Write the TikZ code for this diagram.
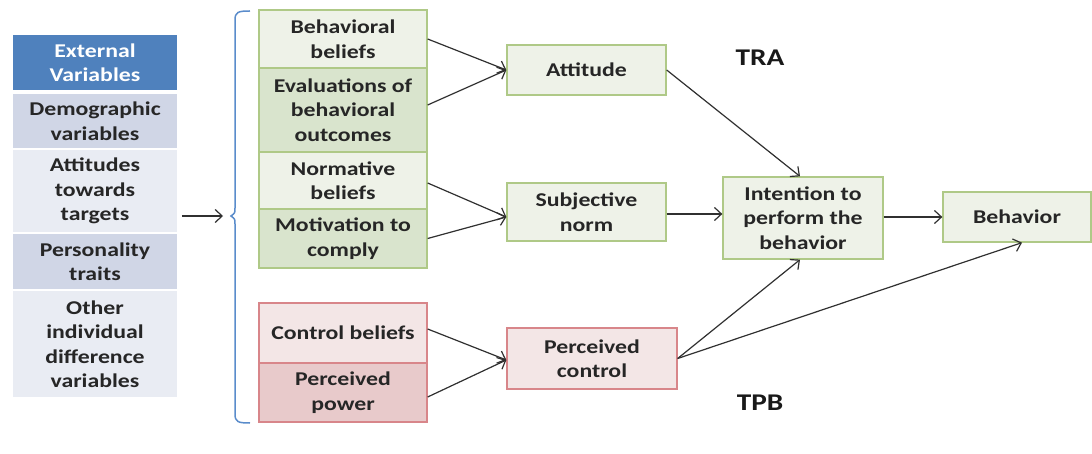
\documentclass[tikz,border=0pt]{standalone}
\usepackage{fontspec}
\setmainfont{Carlito}[FakeStretch=1.22]
\usetikzlibrary{arrows.meta}
\definecolor{hdrblue}{HTML}{4F81BD}
\definecolor{lavdark}{HTML}{D0D6E6}
\definecolor{lavlight}{HTML}{E9ECF3}
\definecolor{gfill}{HTML}{EEF2E8}
\definecolor{gdark}{HTML}{D9E4CD}
\definecolor{gborder}{HTML}{AFC987}
\definecolor{rfill}{HTML}{F3E6E6}
\definecolor{rdark}{HTML}{E8CACB}
\definecolor{rborder}{HTML}{D8868A}
\definecolor{brblue}{HTML}{5A8CCB}
\definecolor{arrgray}{HTML}{303030}
\tikzset{
  txt/.style={font=\fontsize{19.5}{24.5}\selectfont\bfseries, align=center, text=black!85, inner sep=0pt},
  lbox/.style={txt, draw=white, line width=1.5pt, minimum width=166pt},
  gbox/.style={txt, draw=gborder, line width=1.3pt, fill=gfill},
  rbox/.style={txt, draw=rborder, line width=1.3pt, fill=rfill},
  arr/.style={draw=arrgray, line width=1.2pt, -{Straight Barb[length=7pt,width=13pt,line width=1.2pt]}},
  title/.style={font=\fontsize{24}{28}\selectfont\bfseries, text=black!90}
}
\begin{document}
\begin{tikzpicture}[x=1pt,y=-1pt]
\useasboundingbox (0,0) rectangle (1092,454);
\fill[white] (0,0) rectangle (1092,454);

% left column
\node[lbox, fill=hdrblue, text=white, minimum height=56pt] (ext) at (95,62.5) {External\\Variables};
\node[lbox, fill=lavdark, minimum height=56pt] (demo) at (95,121) {Demographic\\variables};
\node[lbox, fill=lavlight, minimum height=84pt] (atv) at (95,191) {Attitudes\\towards\\targets};
\node[lbox, fill=lavdark, minimum height=57pt] (pers) at (95,261.5) {Personality\\traits};
\node[lbox, fill=lavlight, minimum height=108pt] (oth) at (95,344) {Other\\individual\\difference\\variables};

% bracket
\coordinate (brk) at (231,216);
\coordinate (brkin) at (223,216);
\draw[brblue, line width=1.5pt] (250,11) .. controls (238,11) and (235,12) .. (235,20) -- (235,208) .. controls (235,213) .. (brk) .. controls (235,219) .. (235,224) -- (235,414) .. controls (235,422) and (238,423) .. (250,423);
\draw[arr] ([xshift=3pt,yshift=-25pt]atv.east) -- (brkin);

% green stack
\node[gbox, minimum width=168pt, minimum height=58pt] (bb) at (343,39) {Behavioral\\beliefs};
\node[gbox, fill=gdark, minimum width=168pt, minimum height=84pt] (ev) at (343,110) {Evaluations of\\behavioral\\outcomes};
\node[gbox, minimum width=168pt, minimum height=57pt] (nb) at (343,180.5) {Normative\\beliefs};
\node[gbox, fill=gdark, minimum width=168pt, minimum height=59pt] (mc) at (343,238.5) {Motivation to\\comply};

% red stack
\node[rbox, minimum width=168pt, minimum height=60pt] (cb) at (343,333) {Control beliefs};
\node[rbox, fill=rdark, minimum width=168pt, minimum height=59pt] (pp) at (343,392.5) {Perceived\\power};

% middle
\node[gbox, minimum width=159pt, minimum height=50pt] (att) at (586.5,70) {Attitude};
\node[gbox, minimum width=159pt, minimum height=58pt] (sn) at (586.5,212) {Subjective\\norm};
\node[rbox, minimum width=170pt, minimum height=61pt] (pc) at (592,358.5) {Perceived\\control};
\node[gbox, minimum width=160pt, minimum height=82pt] (int) at (803,218) {Intention to\\perform the\\behavior};
\node[gbox, minimum width=148pt, minimum height=50pt] (beh) at (1017,217) {Behavior};

\node[title] (tra) at (760,58) {TRA};
\node[title] (tpb) at (760,403) {TPB};

% arrows
\draw[arr] (bb.east) -- (att.west);
\draw[arr] ([yshift=5pt]ev.east) -- (att.west);
\draw[arr] ([yshift=-2.5pt]nb.east) -- ([yshift=-5pt]sn.west);
\draw[arr] (mc.east) -- ([yshift=-5pt]sn.west);
\draw[arr] ([yshift=4pt]cb.east) -- ([yshift=-1.5pt]pc.west);
\draw[arr] ([yshift=-4.5pt]pp.east) -- ([yshift=-1.5pt]pc.west);
\draw[arr] (att.east) -- ([xshift=-3pt]int.north);
\draw[arr] ([yshift=-2pt]sn.east) -- ([yshift=-2pt]sn.east -| int.west);
\draw[arr] ([yshift=1pt]int.east) -- ([yshift=1pt]int.east -| beh.west);
\draw[arr] (pc.east) -- ([xshift=-3pt]int.south);
\draw[arr] (pc.east) -- ([xshift=5pt]beh.south);
\end{tikzpicture}
\end{document}
